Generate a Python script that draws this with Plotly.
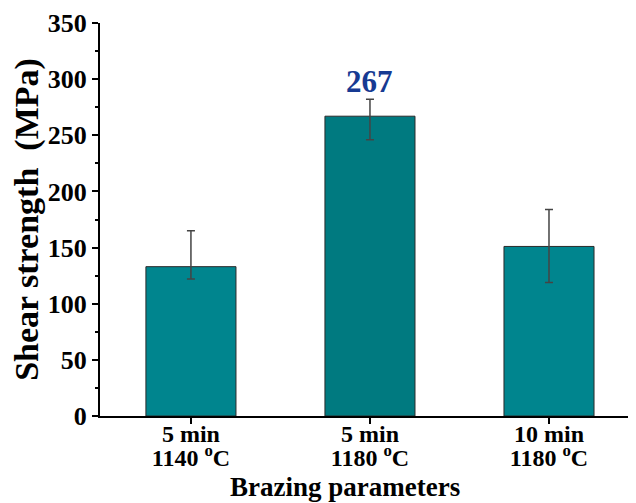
import plotly.graph_objects as go

time_labels = ["5 min", "5 min", "10 min"]
temp_labels = ["1140 <sup>o</sup>C", "1180 <sup>o</sup>C", "1180 <sup>o</sup>C"]
categories = [t + ", " + c for t, c in zip(time_labels, temp_labels)]
strength = [133, 267, 151]
err_plus = [32, 15, 33]
err_minus = [11, 21, 32]
bar_colors = ["#00858E", "#007A80", "#00858E"]
label_text = "267"
label_index = 1
y_ticks = [0, 50, 100, 150, 200, 250, 300, 350]
x_title = "Brazing parameters"
y_title = "Shear strength  (MPa)"

FONT = "Liberation Serif"
XRANGE = [-0.508, 2.486]

fig = go.Figure()
fig.add_trace(go.Bar(
    x=categories, y=strength, width=0.503,
    marker=dict(color=bar_colors, line=dict(color="#2a2a2a", width=1)),
    error_y=dict(type="data", symmetric=False, array=err_plus, arrayminus=err_minus,
                 color="#444444", thickness=1.5, width=4),
))

fig.add_annotation(x=categories[label_index], y=strength[label_index] + err_plus[label_index],
                   text="<b>%s</b>" % label_text, showarrow=False, yanchor="bottom", yshift=-2,
                   font=dict(family=FONT, size=31, color="#173A92"))

# x-axis title (placed left of plot-area centre, as in the original)
fig.add_annotation(x=0.457, xref="paper", y=0, yref="paper", yanchor="bottom", yshift=-88,
                   text="<b>%s</b>" % x_title, showarrow=False,
                   font=dict(family=FONT, size=27, color="black"))

# the page adds an 8px body margin, so the figure is sized to fit the window
fig.update_layout(
    width=628, height=495,
    margin=dict(l=92, r=0, t=15, b=87),
    paper_bgcolor="white", plot_bgcolor="white",
    showlegend=False,
    font=dict(family=FONT, color="black"),
    xaxis=dict(
        range=XRANGE, showline=True, linecolor="black", linewidth=2,
        ticks="outside", ticklen=6, tickwidth=1.5, tickcolor="black",
        tickvals=categories, ticktext=["<b>%s</b>" % t for t in time_labels],
        tickfont=dict(family=FONT, size=24, color="black"),
        ticklabelstandoff=-11,
        showgrid=False, zeroline=False, automargin=False,
    ),
    xaxis2=dict(
        overlaying="x", anchor="y", side="bottom", type="linear",
        range=XRANGE, showline=False, ticks="", showgrid=False, zeroline=False,
        tickvals=list(range(len(temp_labels))),
        ticktext=["<b>%s</b>" % t for t in temp_labels],
        tickfont=dict(family=FONT, size=24, color="black"),
        ticklabelstandoff=25, automargin=False,
    ),
    yaxis=dict(
        range=[0, 350], tickvals=y_ticks, ticktext=["<b>%d</b>" % v for v in y_ticks],
        showline=True, linecolor="black", linewidth=2,
        ticks="outside", ticklen=6, tickwidth=1.5, tickcolor="black",
        minor=dict(dtick=25, ticks="outside", ticklen=3, tickwidth=1.5, tickcolor="black"),
        tickfont=dict(family=FONT, size=26, color="black"),
        title=dict(text="<b>%s</b>" % y_title, font=dict(family=FONT, size=34), standoff=6),
        showgrid=False, zeroline=False, automargin=False,
    ),
)
# invisible helper so xaxis2 is drawn
fig.add_trace(go.Scatter(x=[None], y=[None], xaxis="x2", yaxis="y", showlegend=False, hoverinfo="skip"))

fig.write_html("out.html")
